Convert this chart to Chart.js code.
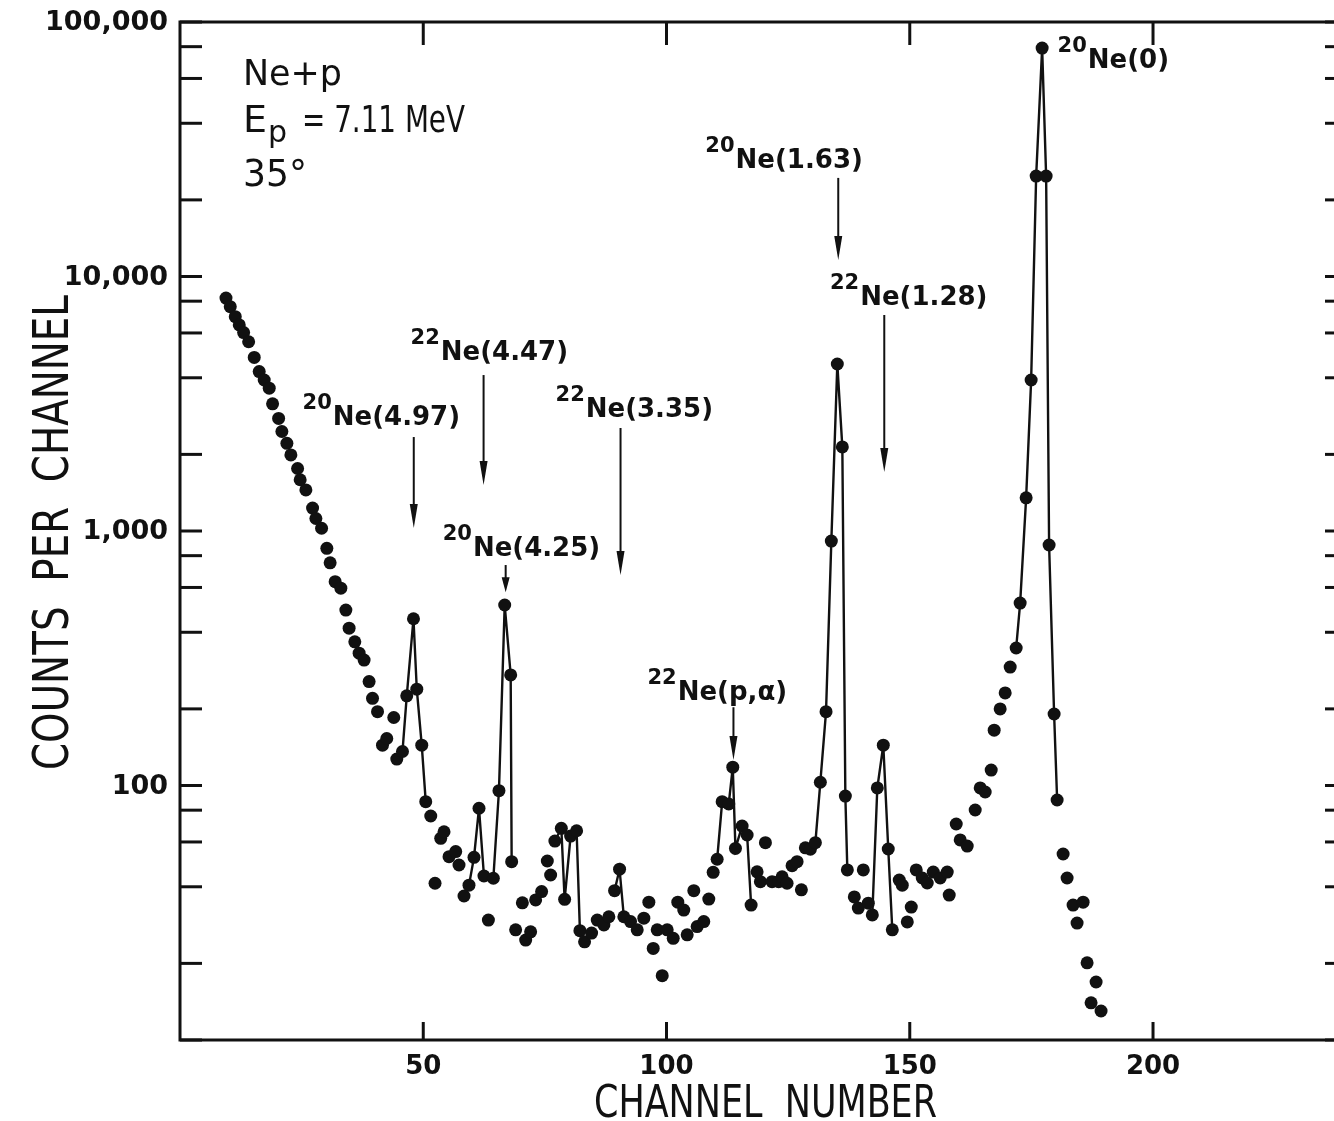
<!DOCTYPE html>
<html>
<head>
<meta charset="utf-8">
<title>Ne + p spectrum, 35 degrees</title>
<script src="https://cdn.jsdelivr.net/npm/chart.js@4.4.0/dist/chart.umd.min.js"></script>
<style>
  html, body { margin: 0; padding: 0; background: #fff; overflow: hidden; }
  #wrap { width: 1334px; height: 1121px; position: relative; }
</style>
</head>
<body>
<div id="wrap"><canvas id="spectrum"></canvas></div>
<script>
// Channel of each plotted point
const CHANNELS = [
    9.45, 10.33, 11.36, 12.18, 13.08, 14.11, 15.26, 16.28, 17.31, 18.34,
    19.03, 20.27, 20.94, 21.97, 22.79, 24.17, 24.70, 25.87, 27.25, 27.93,
    29.10, 30.18, 30.86, 31.89, 33.06, 34.09, 34.76, 35.93, 36.82, 37.84,
    38.87, 39.57, 40.60, 41.62, 42.50, 43.94, 44.56, 45.73, 46.61, 47.99,
    48.67, 49.69, 50.51, 51.54, 52.42, 53.59, 54.27, 55.30, 56.67, 57.35,
    58.38, 59.40, 60.43, 61.46, 62.48, 63.39, 64.41, 65.56, 66.74, 67.97,
    68.17, 68.99, 70.37, 71.05, 72.07, 73.10, 74.33, 75.50, 76.18, 77.06,
    78.38, 79.06, 80.29, 81.52, 82.20, 83.16, 84.60, 85.77, 87.13, 88.15,
    89.32, 90.35, 91.23, 92.61, 93.98, 95.34, 96.37, 97.27, 98.09, 99.12,
    100.14, 101.38, 102.32, 103.55, 104.25, 105.61, 106.30, 107.66, 108.69, 109.59,
    110.41, 111.44, 112.79, 113.62, 114.17, 115.54, 116.57, 117.39, 118.62, 119.30,
    120.33, 121.70, 123.06, 123.76, 124.78, 125.81, 126.84, 127.72, 128.54, 129.57,
    130.60, 131.62, 132.79, 133.88, 135.11, 136.14, 136.76, 137.17, 138.60, 139.43,
    140.45, 141.48, 142.30, 143.33, 144.56, 145.58, 146.41, 147.84, 148.46, 149.49,
    150.31, 151.33, 152.57, 153.59, 154.83, 156.26, 157.70, 158.11, 159.55, 160.37,
    161.81, 163.45, 164.48, 165.50, 166.74, 167.35, 168.58, 169.61, 170.64, 171.87,
    172.69, 173.92, 174.95, 175.98, 177.21, 178.03, 178.64, 179.67, 180.29, 181.52,
    182.34, 183.57, 184.39, 185.63, 186.45, 187.27, 188.30, 189.32
];

// Counts per channel for the same points
const COUNTS = [
    8230, 7610, 6950, 6450, 6020, 5540, 4810, 4230, 3920, 3640,
    3160, 2770, 2460, 2210, 1990, 1760, 1590, 1450, 1230, 1120,
    1025, 855, 750, 632, 596, 489, 415, 367, 331, 311,
    256, 220, 195, 144, 153, 185, 127, 136, 225, 452,
    239, 144, 86.4, 75.9, 41.3, 62.0, 65.8, 52.5, 55.0, 48.7,
    36.8, 40.6, 52.2, 81.4, 44.1, 29.6, 43.2, 95.4, 512, 272,
    50.2, 27.1, 34.6, 24.7, 26.6, 35.5, 38.3, 50.5, 44.5, 60.5,
    67.9, 35.7, 63.3, 66.4, 26.9, 24.3, 26.3, 29.6, 28.3, 30.5,
    38.6, 46.9, 30.5, 29.2, 27.1, 30.1, 34.8, 22.9, 27.1, 17.9,
    27.1, 25.1, 34.8, 32.4, 25.9, 38.6, 27.9, 29.2, 35.8, 45.6,
    51.3, 86.4, 84.6, 118, 56.6, 69.3, 63.9, 33.9, 45.8, 41.9,
    59.6, 41.9, 41.9, 43.8, 41.3, 48.4, 50.2, 38.9, 56.9, 56.2,
    59.6, 103, 195, 913, 4530, 2140, 90.9, 46.6, 36.5, 33.0,
    46.6, 34.5, 31.0, 97.8, 144, 56.3, 27.1, 42.5, 40.6, 29.1,
    33.3, 46.6, 43.3, 41.4, 45.7, 43.3, 45.7, 37.1, 70.6, 61.1,
    57.8, 80.1, 97.8, 94.3, 115, 165, 200, 231, 292, 347,
    521, 1350, 3920, 24800, 79000, 24800, 881, 191, 87.7, 53.8,
    43.3, 33.9, 28.8, 34.8, 20.1, 14.0, 16.9, 13.0
];

// Channel ranges where neighbouring points are joined by a line (the peaks)
const JOINED = [
    [45.7, 50.6], [59.3, 62.5], [64.3, 68.3], [77.0, 82.3], [89.2, 91.3],
    [110.3, 117.5], [130.5, 137.3], [142.2, 146.5], [171.8, 180.4]
];

// Axis ticks
const X_TICKS = [50, 100, 150, 200];
const X_LABELS = ['50', '100', '150', '200'];
const Y_DECADES = [10, 100, 1000, 10000, 100000];
const Y_LABELS = ['', '100', '1,000', '10,000', '100,000'];
const Y_MINOR = [2, 4, 6, 8];

// Peak labels: text anchored at (channel, counts), arrow from top to tip
const PEAK_NOTES = [
    { iso: '20', state: 'Ne(4.97)', at: [31.4, 2610], arrow: [48.05, 2340, 1027] },
    { iso: '22', state: 'Ne(4.47)', at: [53.6, 4700], arrow: [62.4, 4100, 1517] },
    { iso: '22', state: 'Ne(3.35)', at: [83.4, 2800], arrow: [90.55, 2540, 671] },
    { iso: '20', state: 'Ne(4.25)', at: [60.2, 798], arrow: [66.94, 735, 575] },
    { iso: '22', state: 'Ne(p,α)', at: [102.3, 217], arrow: [113.76, 203, 126] },
    { iso: '20', state: 'Ne(1.63)', at: [114.2, 26700], arrow: [135.3, 24400, 11600] },
    { iso: '22', state: 'Ne(1.28)', at: [139.8, 7730], arrow: [144.76, 7060, 1707] },
    { iso: '20', state: 'Ne(0)', at: [186.6, 65900], arrow: null }
];

const INK = '#111';
const FONT = '"DejaVu Sans", sans-serif';

function isJoined(a, b) {
    return JOINED.some(r => a >= r[0] && b <= r[1]);
}

function yTickValues() {
    const vals = [];
    Y_DECADES.forEach((d, i) => {
        vals.push(d);
        if (i < Y_DECADES.length - 1) Y_MINOR.forEach(m => vals.push(d * m));
    });
    return vals;
}

// Draw text squeezed to a given width (lettering on the original is narrow)
function fitText(ctx, str, x, y, size, width, weight) {
    ctx.font = (weight || 'normal') + ' ' + size + 'px ' + FONT;
    const w = ctx.measureText(str).width;
    const sx = width ? width / w : 1;
    ctx.save();
    ctx.translate(x, y);
    ctx.scale(sx, 1);
    ctx.fillText(str, 0, 0);
    ctx.restore();
}

function line(ctx, x1, y1, x2, y2) {
    ctx.beginPath();
    ctx.moveTo(x1, y1);
    ctx.lineTo(x2, y2);
    ctx.stroke();
}

// Frame, inward ticks, tick labels, titles and peak labels
const decorations = {
    id: 'decorations',
    afterDraw(chart) {
        const { ctx, chartArea: a, scales: { x, y } } = chart;
        ctx.save();
        ctx.strokeStyle = INK;
        ctx.fillStyle = INK;
        ctx.lineWidth = 3;
        ctx.lineCap = 'butt';

        // open frame (right edge lies outside the photo)
        ctx.beginPath();
        ctx.moveTo(a.right, a.top);
        ctx.lineTo(a.left, a.top);
        ctx.lineTo(a.left, a.bottom);
        ctx.lineTo(a.right, a.bottom);
        ctx.stroke();

        yTickValues().forEach(v => {
            const py = y.getPixelForValue(v);
            line(ctx, a.left, py, a.left + 22, py);
            line(ctx, a.right - 9, py, a.right, py);
        });
        X_TICKS.forEach(v => {
            const px = x.getPixelForValue(v);
            line(ctx, px, a.bottom, px, a.bottom - 18);
            line(ctx, px, a.top, px, a.top + 23);
        });

        // tick labels
        ctx.font = 'bold 27px ' + FONT;
        ctx.textAlign = 'right';
        ctx.textBaseline = 'middle';
        Y_DECADES.forEach((v, i) => {
            if (Y_LABELS[i]) ctx.fillText(Y_LABELS[i], a.left - 12, y.getPixelForValue(v) + 1);
        });
        ctx.font = 'bold 26px ' + FONT;
        ctx.textAlign = 'center';
        ctx.textBaseline = 'alphabetic';
        X_TICKS.forEach((v, i) => {
            ctx.fillText(X_LABELS[i], x.getPixelForValue(v), a.bottom + 34);
        });

        // axis titles
        ctx.textAlign = 'left';
        fitText(ctx, 'CHANNEL  NUMBER', 594, 1117, 44, 343);
        ctx.save();
        ctx.translate(68, 770);
        ctx.rotate(-Math.PI / 2);
        fitText(ctx, 'COUNTS  PER  CHANNEL', 0, 0, 50, 475);
        ctx.restore();

        // run conditions
        fitText(ctx, 'Ne+p', a.left + 63, 85, 36, 99);
        fitText(ctx, 'E', a.left + 63, 132, 38);
        fitText(ctx, 'p', a.left + 88, 142, 30);
        fitText(ctx, '= 7.11 MeV', a.left + 122, 132, 38, 163);
        fitText(ctx, '35°', a.left + 63, 186, 38, 64);

        // peak labels and arrows
        PEAK_NOTES.forEach(n => {
            const lx = x.getPixelForValue(n.at[0]);
            const ly = y.getPixelForValue(n.at[1]);
            ctx.textAlign = 'left';
            ctx.font = 'bold 26px ' + FONT;
            ctx.fillText(n.state, lx, ly);
            ctx.textAlign = 'right';
            ctx.font = 'bold 21px ' + FONT;
            ctx.fillText(n.iso, lx - 1, ly - 16);
            if (n.arrow) {
                const ax = x.getPixelForValue(n.arrow[0]);
                const top = y.getPixelForValue(n.arrow[1]);
                const tip = y.getPixelForValue(n.arrow[2]);
                const head = Math.min(24, (tip - top) * 0.55);
                ctx.lineWidth = 2;
                line(ctx, ax, top, ax, tip - head + 2);
                ctx.beginPath();
                ctx.moveTo(ax - 4, tip - head);
                ctx.lineTo(ax + 4, tip - head);
                ctx.lineTo(ax, tip);
                ctx.closePath();
                ctx.fill();
            }
        });
        ctx.restore();
    }
};

const points = CHANNELS.map((c, i) => ({ x: c, y: COUNTS[i] }));

new Chart(document.getElementById('spectrum'), {
    type: 'scatter',
    data: {
        datasets: [{
            data: points,
            showLine: true,
            borderColor: INK,
            borderWidth: 2.4,
            pointRadius: 6.5,
            pointBackgroundColor: INK,
            pointBorderWidth: 0,
            segment: {
                borderColor: c => isJoined(c.p0.parsed.x, c.p1.parsed.x) ? INK : 'rgba(0,0,0,0)'
            }
        }]
    },
    options: {
        responsive: true,
        maintainAspectRatio: false,
        animation: false,
        layout: { autoPadding: false, padding: { top: 22, right: 0, bottom: 0, left: 0 } },
        plugins: { legend: { display: false }, tooltip: { enabled: false } },
        scales: {
            x: {
                type: 'linear',
                min: 0,
                max: 237.2,
                grid: { display: false, drawTicks: false },
                border: { display: false },
                ticks: { display: false },
                afterFit: s => { s.height = 81; },
                afterBuildTicks: s => { s.ticks = X_TICKS.map(v => ({ value: v })); }
            },
            y: {
                type: 'logarithmic',
                min: 10,
                max: 100000,
                grid: { display: false, drawTicks: false },
                border: { display: false },
                ticks: { display: false },
                afterFit: s => { s.width = 180; },
                afterBuildTicks: s => { s.ticks = Y_DECADES.map(v => ({ value: v })); }
            }
        }
    },
    plugins: [decorations]
});
</script>
</body>
</html>
